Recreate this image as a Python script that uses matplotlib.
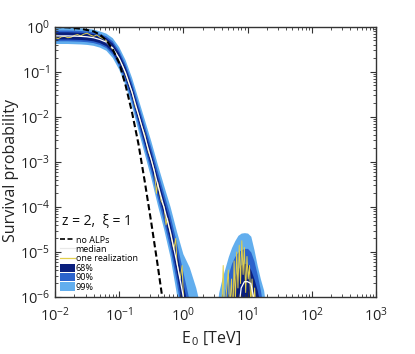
import numpy as np
import matplotlib
matplotlib.use("Agg")
import matplotlib.pyplot as plt
from matplotlib.lines import Line2D
from matplotlib.patches import Patch

plt.rcParams['font.family'] = ['Open Sans', 'DejaVu Sans']
plt.rcParams['mathtext.fontset'] = 'custom'
plt.rcParams['mathtext.rm'] = 'Open Sans'
plt.rcParams['mathtext.it'] = 'Open Sans:italic'

# --- data (log10 values) ---
# main branch
main_logE = [-2.0, -1.8, -1.6, -1.5, -1.4, -1.3, -1.2, -1.1, -1.0, -0.9, -0.8,
             -0.7, -0.6, -0.5, -0.4, -0.3, -0.2, -0.1, 0.0, 0.1, 0.2, 0.3]
main_med = [-0.2, -0.2, -0.21, -0.22, -0.24, -0.28, -0.34, -0.47, -0.7, -1.02, -1.45,
            -1.95, -2.45, -2.95, -3.5, -4.02, -4.57, -5.25, -6.0, -6.8, -8, -8]
main_68_hi = [-0.12, -0.12, -0.13, -0.14, -0.16, -0.2, -0.25, -0.37, -0.59, -0.9, -1.32,
              -1.81, -2.3, -2.79, -3.33, -3.84, -4.36, -5.0, -5.7, -6.4, -7.3, -8]
main_68_lo = [-0.28, -0.28, -0.29, -0.3, -0.32, -0.36, -0.43, -0.57, -0.81, -1.14, -1.58,
              -2.09, -2.6, -3.11, -3.67, -4.2, -4.78, -5.5, -6.3, -7.2, -8, -8]
main_90_hi = [-0.08, -0.08, -0.09, -0.1, -0.12, -0.16, -0.21, -0.32, -0.53, -0.83, -1.24,
              -1.72, -2.2, -2.68, -3.2, -3.7, -4.2, -4.8, -5.45, -6.1, -6.9, -8]
main_90_lo = [-0.32, -0.32, -0.33, -0.34, -0.36, -0.4, -0.47, -0.62, -0.87, -1.21, -1.66,
              -2.18, -2.7, -3.22, -3.8, -4.34, -4.94, -5.7, -6.55, -7.5, -8, -8]
main_99_hi = [-0.02, -0.02, -0.03, -0.04, -0.06, -0.1, -0.15, -0.25, -0.45, -0.74, -1.13,
              -1.6, -2.07, -2.54, -3.05, -3.53, -4.0, -4.55, -5.05, -5.35, -5.8, -6.4]
main_99_lo = [-0.38, -0.38, -0.39, -0.4, -0.42, -0.46, -0.53, -0.69, -0.95, -1.3, -1.76,
              -2.3, -2.83, -3.36, -3.95, -4.5, -5.12, -5.95, -6.9, -8, -8, -8]

# second bump around 10 TeV
bump_logE = [0.5, 0.55, 0.6, 0.65, 0.7, 0.75, 0.8, 0.85, 0.9,
             0.95, 1.0, 1.05, 1.1, 1.15, 1.2, 1.25, 1.3, 1.35]
bump_med = [-8, -8, -8, -8, -8, -8, -8, -6.4, -5.8,
            -5.66, -5.66, -5.7, -6.05, -6.6, -8, -8, -8, -8]
bump_68_hi = [-8, -8, -8, -7, -6.3, -5.85, -5.55, -5.38, -5.28,
              -5.25, -5.27, -5.4, -5.6, -5.85, -6.2, -7, -8, -8]
bump_90_hi = [-8, -7, -6.35, -5.85, -5.5, -5.25, -5.1, -5.0, -4.95,
              -4.92, -4.92, -5.0, -5.2, -5.5, -5.85, -6.3, -7, -8]
bump_99_hi = [-6.5, -5.9, -5.6, -5.35, -5.1, -4.9, -4.75, -4.63, -4.58,
              -4.57, -4.58, -4.65, -4.95, -5.3, -5.6, -5.85, -6.4, -8]

# no ALPs
noalp_logE = [-2.0, -1.8, -1.6, -1.4, -1.3, -1.2, -1.1, -1.0, -0.9, -0.8,
              -0.7, -0.6, -0.5, -0.4, -0.3]
noalp_logP = [0.0, -0.01, -0.04, -0.1, -0.17, -0.3, -0.5, -0.8, -1.3, -1.9,
              -2.6, -3.45, -4.35, -5.3, -6.3]

# one realization
real_logE = [-2.0, -1.95, -1.9, -1.85, -1.8, -1.75, -1.7, -1.65, -1.6, -1.55, -1.5,
             -1.45, -1.4, -1.35, -1.3, -1.25, -1.2, -1.15, -1.1, -1.05, -1.0, -0.95,
             -0.9, -0.85, -0.8, -0.75, -0.7, -0.65, -0.6, -0.55, -0.5, -0.45, -0.42,
             -0.4, -0.35, -0.3, -0.27, -0.25, -0.2, -0.15, -0.12, -0.1, -0.05, -0.02,
             0.0, 0.05, 0.1, 0.55, 0.6, 0.62, 0.64, 0.67, 0.7, 0.72, 0.75, 0.77, 0.79,
             0.81, 0.83, 0.85, 0.87, 0.89, 0.91, 0.93, 0.95, 0.97, 0.99, 1.01, 1.03,
             1.05, 1.07, 1.09, 1.11, 1.14, 1.18]
real_logP = [-0.24, -0.26, -0.22, -0.21, -0.24, -0.23, -0.19, -0.17, -0.2, -0.16, -0.14,
             -0.18, -0.21, -0.18, -0.23, -0.26, -0.31, -0.4, -0.5, -0.58, -0.72, -0.85,
             -1.05, -1.25, -1.45, -1.75, -1.95, -2.2, -2.4, -2.75, -2.95, -3.2, -3.7,
             -3.45, -3.85, -4.0, -4.4, -4.25, -4.6, -4.95, -4.7, -5.25, -5.6, -5.3,
             -6.0, -6.5, -8, -7, -6.2, -5.3, -6.4, -5.9, -5.4, -6.3, -5.6, -6.5, -5.2,
             -6.1, -5.0, -5.8, -4.85, -5.7, -4.75, -5.5, -4.9, -5.9, -5.1, -5.6, -5.3,
             -6.2, -5.6, -6.4, -5.8, -6.6, -7]

c68 = '#0a1f7d'
c90 = '#2b63cc'
c99 = '#62aeee'
cyel = '#e2cf4a'

def p(a):
    return 10.0 ** np.array(a)

fig = plt.figure(figsize=(4.15, 3.54), dpi=100)
ax = fig.add_axes([0.1325, 0.161, 0.7735, 0.763])

for hi, lo, c in [(main_99_hi, main_99_lo, c99), (main_90_hi, main_90_lo, c90),
                  (main_68_hi, main_68_lo, c68)]:
    ax.fill_between(p(main_logE), p(lo), p(hi), color=c, lw=0)
for hi, c in [(bump_99_hi, c99), (bump_90_hi, c90), (bump_68_hi, c68)]:
    ax.fill_between(p(bump_logE), 1e-8, p(hi), color=c, lw=0)

ax.plot(p(real_logE), p(real_logP), color=cyel, lw=0.7)
ax.plot(p(main_logE), p(main_med), color='white', lw=0.9)
ax.plot(p(bump_logE), p(bump_med), color='white', lw=0.9)
ax.plot(p(noalp_logE), p(noalp_logP), color='black', lw=1.5, ls=(0, (3, 1.5)))

ax.set_xscale('log')
ax.set_yscale('log')
ax.set_xlim(1e-2, 1e3)
ax.set_ylim(1e-6, 1.0)
ax.tick_params(which='both', direction='in', top=True, right=True,
               labelsize=10.5, colors='#333333', labelcolor='#222222')
ax.tick_params(axis='x', which='major', pad=7)
ax.tick_params(which='major', length=4, width=0.8)
ax.tick_params(which='minor', length=2, width=0.6)
for s in ax.spines.values():
    s.set_color('#333333')
    s.set_linewidth(1.0)

ax.set_xlabel(r'E$_{\,0}$ [TeV]', fontsize=11.5, color='#222222')
ax.set_ylabel('Survival probability', fontsize=11.5, color='#222222')
ax.xaxis.set_label_coords(0.486, -0.122)
ax.yaxis.set_label_coords(-0.112, 0.467)

ax.text(0.022, 0.278, 'z = 2,  ξ = 1', transform=ax.transAxes, fontsize=10,
        va='center', ha='left', color='#111111')

handles = [Line2D([], [], color='black', lw=1.2, ls=(0, (3, 1.5))),
           Line2D([], [], color='#e8e8e8', lw=0.9),
           Line2D([], [], color=cyel, lw=0.9),
           Patch(color=c68, lw=0), Patch(color=c90, lw=0), Patch(color=c99, lw=0)]
labels = ['no ALPs', 'median', 'one realization', '68%', '90%', '99%']
ax.legend(handles, labels, loc='lower left', bbox_to_anchor=(0.0, 0.0),
          frameon=False, fontsize=6.5, handlelength=1.6, handleheight=1.0,
          handletextpad=0.08, labelspacing=0.03, borderpad=0.3, borderaxespad=0.3)

fig.savefig('out.png', dpi=100)
